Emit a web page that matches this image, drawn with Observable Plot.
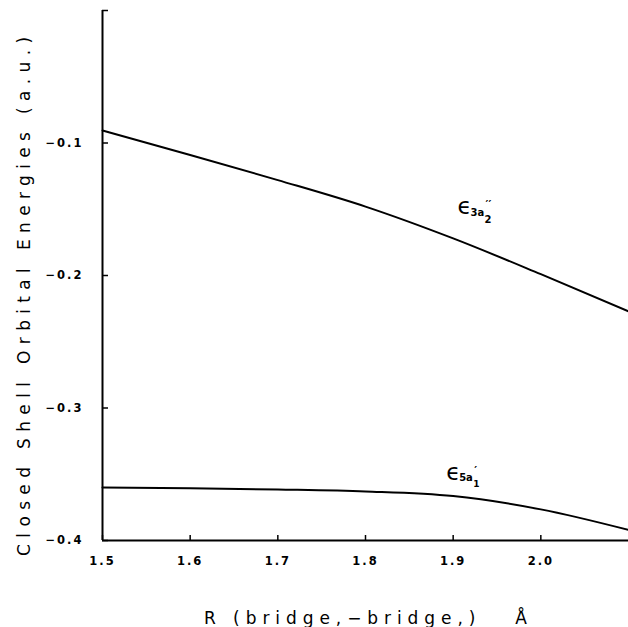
<!DOCTYPE html>
<html>
<head>
<meta charset="utf-8">
<script src="https://cdn.jsdelivr.net/npm/d3@7"></script>
<script src="https://cdn.jsdelivr.net/npm/@observablehq/plot@0.6"></script>
<style>
  html, body { margin: 0; padding: 0; background: #fff; }
  #chart svg { display: block; }
</style>
</head>
<body>
<div id="chart"></div>
<script>
// Bridge–bridge distance R (Å)
const rValues = [1.5, 1.6, 1.7, 1.8, 1.9, 2.0, 2.1];
// ε(3a2'') closed-shell orbital energy (a.u.)
const upperEnergies = [-0.0905, -0.109, -0.128, -0.148, -0.172, -0.199, -0.227];
// ε(5a1') closed-shell orbital energy (a.u.)
const lowerEnergies = [-0.360, -0.3605, -0.3615, -0.363, -0.3665, -0.3765, -0.392];
const xTicks = [1.5, 1.6, 1.7, 1.8, 1.9, 2.0];
const yTicks = [-0.4, -0.3, -0.2, -0.1, 0.0];
const xTitle = "R (bridge,\u2212bridge,)   \u00C5";
const yTitle = "Closed Shell Orbital Energies (a.u.)";

const upper = rValues.map((r, i) => ({r, e: upperEnergies[i]}));
const lower = rValues.map((r, i) => ({r, e: lowerEnergies[i]}));

const fmtX = d => d.toFixed(1);
const fmtY = d => d === 0 ? "" : (d < 0 ? "\u2212" : "") + Math.abs(d).toFixed(1);
const font = "'DejaVu Sans', sans-serif";

const chart = Plot.plot({
  width: 628,
  height: 627,
  marginLeft: 102,
  marginRight: 0,
  marginTop: 10,
  marginBottom: 87,
  style: {fontFamily: font, background: "#fff", color: "#000"},
  x: {domain: [1.5, 2.1]},
  y: {domain: [-0.4, 0.0]},
  marks: [
    Plot.axisX({
      ticks: xTicks, tickSize: -5, tickPadding: 21, tickFormat: fmtX,
      fontSize: 11, stroke: "#000", strokeWidth: 1.5, label: null
    }),
    Plot.axisY({
      ticks: yTicks, tickSize: -6, tickPadding: 25, tickFormat: fmtY,
      fontSize: 11, stroke: "#000", strokeWidth: 1.5, label: null
    }),
    Plot.text([yTitle], {
      frameAnchor: "left", y: () => -0.2158, dx: -78, rotate: -90,
      fontSize: 17, textAnchor: "middle", lineAnchor: "middle"
    }),
    Plot.text([xTitle], {
      frameAnchor: "bottom", dy: 83, fontSize: 17, textAnchor: "middle",
      lineAnchor: "bottom"
    }),
    Plot.ruleX([1.5], {stroke: "#000", strokeWidth: 2}),
    Plot.ruleY([-0.4], {stroke: "#000", strokeWidth: 2}),
    Plot.line(upper, {x: "r", y: "e", curve: "monotone-x", stroke: "#000", strokeWidth: 2}),
    Plot.line(lower, {x: "r", y: "e", curve: "monotone-x", stroke: "#000", strokeWidth: 2}),
    // ε 3a2'' label
    Plot.text(["\u03F5"], {x: 1.905, y: -0.148, fontSize: 23, textAnchor: "start", fontFamily: font}),
    Plot.text(["3a"], {x: 1.905, y: -0.148, dx: 13, dy: 6, fontSize: 10, fontWeight: "bold", textAnchor: "start", fontFamily: font}),
    Plot.text(["2"], {x: 1.905, y: -0.148, dx: 27, dy: 13, fontSize: 10, fontWeight: "bold", textAnchor: "start", fontFamily: font}),
    Plot.text(["\u2032\u2032"], {x: 1.905, y: -0.148, dx: 28, dy: -2, fontSize: 11, fontWeight: "bold", textAnchor: "start", fontFamily: font}),
    // ε 5a1' label
    Plot.text(["\u03F5"], {x: 1.892, y: -0.3485, fontSize: 23, textAnchor: "start", fontFamily: font}),
    Plot.text(["5a"], {x: 1.892, y: -0.3485, dx: 13, dy: 6, fontSize: 10, fontWeight: "bold", textAnchor: "start", fontFamily: font}),
    Plot.text(["1"], {x: 1.892, y: -0.3485, dx: 27, dy: 12, fontSize: 9, fontWeight: "bold", textAnchor: "start", fontFamily: font}),
    Plot.text(["\u2032"], {x: 1.892, y: -0.3485, dx: 28, dy: -2, fontSize: 11, fontWeight: "bold", textAnchor: "start", fontFamily: font})
  ]
});

// Styling pass: tick-label weight/spacing and stretched axis titles
const tickStrings = new Set([...xTicks.map(fmtX), ...yTicks.map(fmtY).filter(s => s)]);
d3.select(chart).selectAll("text").each(function() {
  const t = this.textContent;
  const sel = d3.select(this);
  if (t === yTitle) {
    sel.attr("textLength", 519).attr("lengthAdjust", "spacing");
  } else if (t === xTitle) {
    sel.attr("textLength", 323).attr("lengthAdjust", "spacing");
  } else if (tickStrings.has(t)) {
    sel.style("font-weight", "bold").style("letter-spacing", "2px").style("font-size", "11.5px");
  }
});
document.getElementById("chart").appendChild(chart);
</script>
</body>
</html>
